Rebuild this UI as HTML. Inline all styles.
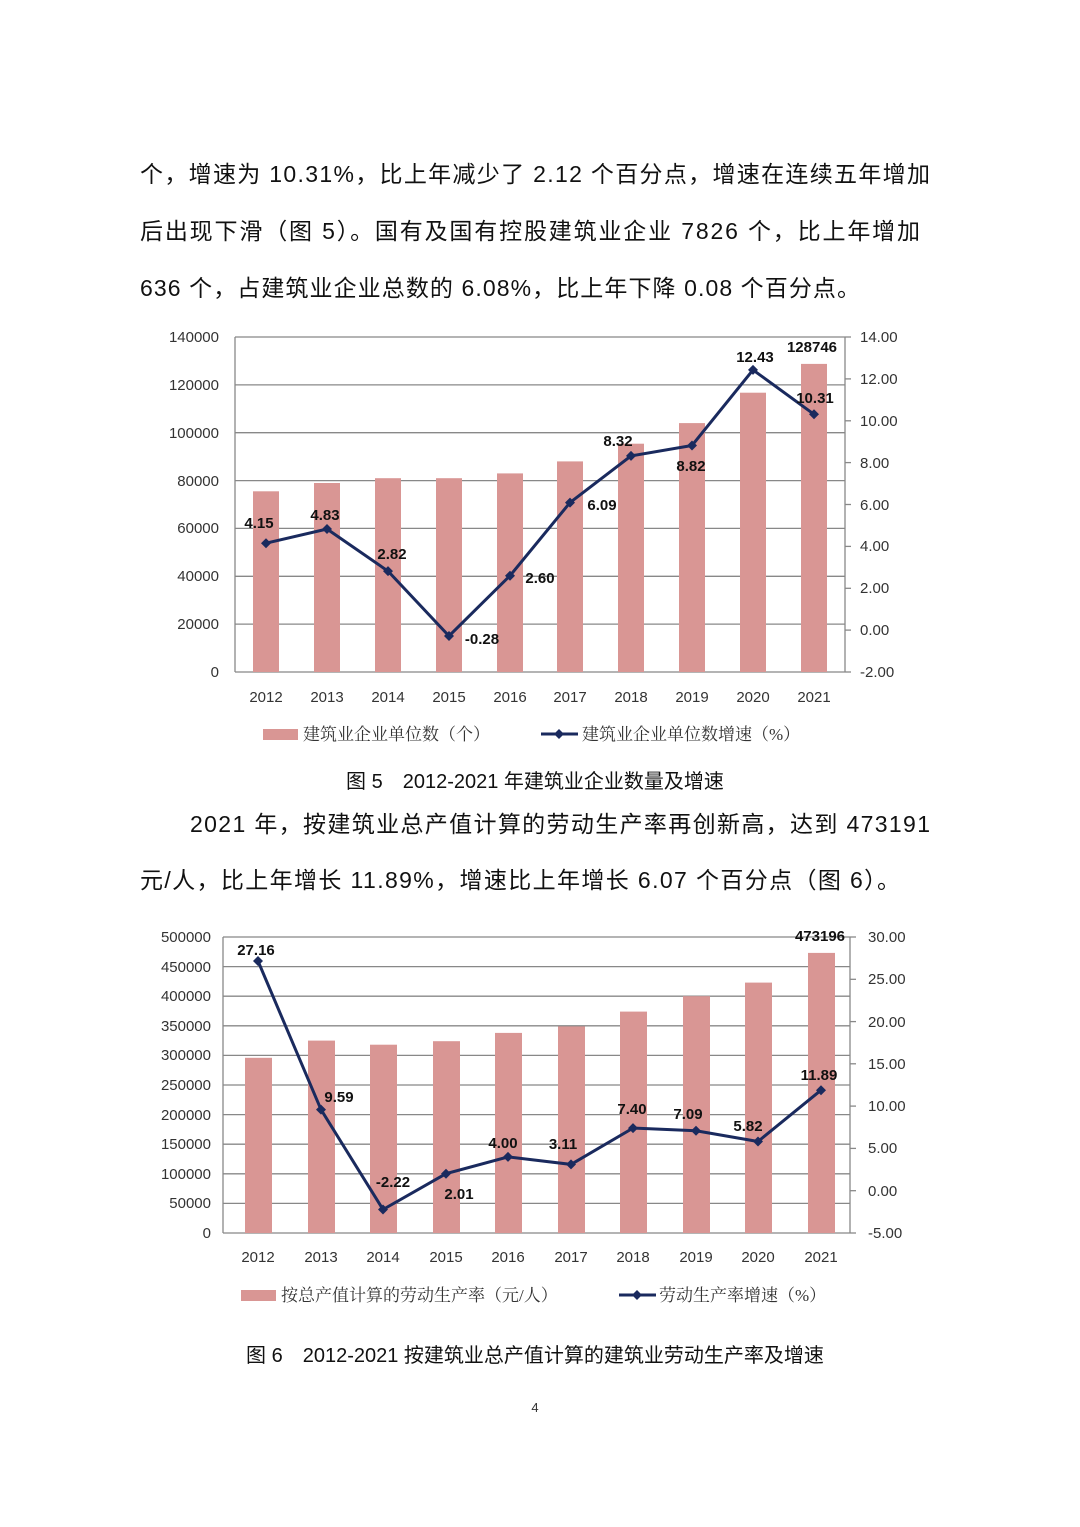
<!DOCTYPE html>
<html><head><meta charset="utf-8"><style>
html,body{margin:0;padding:0;background:#fff;}
svg{display:block;}
.p{font-family:"Liberation Sans","Noto Sans CJK SC",sans-serif;font-size:23px;fill:#111;}
.t{font-family:"Liberation Sans","Noto Sans CJK SC",sans-serif;font-size:15px;fill:#333;}
.d{font-family:"Liberation Sans",sans-serif;font-size:15px;font-weight:bold;fill:#111;}
.c{font-family:"Liberation Sans","Noto Sans CJK SC",sans-serif;font-size:20px;fill:#111;}
.l{font-family:"Liberation Serif","Noto Serif CJK SC",serif;font-size:17px;fill:#333;}
</style></head><body>
<svg width="1080" height="1527" viewBox="0 0 1080 1527" xmlns="http://www.w3.org/2000/svg">
<text class="p" x="140" y="182" textLength="790">个，增速为 10.31%，比上年减少了 2.12 个百分点，增速在连续五年增加</text>
<text class="p" x="140" y="239" textLength="780">后出现下滑（图 5）。国有及国有控股建筑业企业 7826 个，比上年增加</text>
<text class="p" x="140" y="296" textLength="720">636 个，占建筑业企业总数的 6.08%，比上年下降 0.08 个百分点。</text>

<!-- Chart 1 -->
<g stroke="#888" stroke-width="1.3">
<line x1="235" y1="672" x2="845" y2="672"/>
<line x1="235" y1="624.1" x2="845" y2="624.1"/>
<line x1="235" y1="576.3" x2="845" y2="576.3"/>
<line x1="235" y1="528.4" x2="845" y2="528.4"/>
<line x1="235" y1="480.6" x2="845" y2="480.6"/>
<line x1="235" y1="432.7" x2="845" y2="432.7"/>
<line x1="235" y1="384.9" x2="845" y2="384.9"/>
<line x1="235" y1="337" x2="845" y2="337"/>
<line x1="235" y1="337" x2="235" y2="672"/>
<line x1="845" y1="337" x2="845" y2="672"/>
</g>
<g fill="#d99694">
<rect x="253" y="491.3" width="26" height="180.7"/>
<rect x="314" y="483" width="26" height="189"/>
<rect x="375" y="478.2" width="26" height="193.8"/>
<rect x="436" y="478.2" width="26" height="193.8"/>
<rect x="497" y="473.4" width="26" height="198.6"/>
<rect x="557" y="461.4" width="26" height="210.6"/>
<rect x="618" y="443.7" width="26" height="228.3"/>
<rect x="679" y="423.1" width="26" height="248.9"/>
<rect x="740" y="392.7" width="26" height="279.3"/>
<rect x="801" y="363.9" width="26" height="308.1"/>
</g>
<polyline fill="none" stroke="#1a2a5e" stroke-width="3" points="266,543.2 327,529 388,571.1 449,636 510,575.7 570,502.6 631,455.9 692,445.5 753,369.9 814,414.3"/>
<g fill="#1a2a5e">
<path d="M266 538.2l5 5-5 5-5-5z"/><path d="M327 524l5 5-5 5-5-5z"/><path d="M388 566.1l5 5-5 5-5-5z"/><path d="M449 631l5 5-5 5-5-5z"/><path d="M510 570.7l5 5-5 5-5-5z"/><path d="M570 497.6l5 5-5 5-5-5z"/><path d="M631 450.9l5 5-5 5-5-5z"/><path d="M692 440.5l5 5-5 5-5-5z"/><path d="M753 364.9l5 5-5 5-5-5z"/><path d="M814 409.3l5 5-5 5-5-5z"/>
</g>
<g class="t" text-anchor="end">
<text x="219" y="677">0</text><text x="219" y="629">20000</text><text x="219" y="581">40000</text><text x="219" y="533">60000</text><text x="219" y="486">80000</text><text x="219" y="438">100000</text><text x="219" y="390">120000</text><text x="219" y="342">140000</text>
</g>
<g stroke="#888" stroke-width="1.3">
<line x1="845" y1="672" x2="851" y2="672"/><line x1="845" y1="630.1" x2="851" y2="630.1"/><line x1="845" y1="588.3" x2="851" y2="588.3"/><line x1="845" y1="546.4" x2="851" y2="546.4"/><line x1="845" y1="504.5" x2="851" y2="504.5"/><line x1="845" y1="462.6" x2="851" y2="462.6"/><line x1="845" y1="420.8" x2="851" y2="420.8"/><line x1="845" y1="378.9" x2="851" y2="378.9"/><line x1="845" y1="337" x2="851" y2="337"/>
</g>
<g class="t">
<text x="860" y="677">-2.00</text><text x="860" y="635">0.00</text><text x="860" y="593">2.00</text><text x="860" y="551">4.00</text><text x="860" y="510">6.00</text><text x="860" y="468">8.00</text><text x="860" y="426">10.00</text><text x="860" y="384">12.00</text><text x="860" y="342">14.00</text>
</g>
<g class="t" text-anchor="middle">
<text x="266" y="702">2012</text><text x="327" y="702">2013</text><text x="388" y="702">2014</text><text x="449" y="702">2015</text><text x="510" y="702">2016</text><text x="570" y="702">2017</text><text x="631" y="702">2018</text><text x="692" y="702">2019</text><text x="753" y="702">2020</text><text x="814" y="702">2021</text>
</g>
<g class="d" text-anchor="middle">
<text x="259" y="528">4.15</text><text x="325" y="520">4.83</text><text x="392" y="559">2.82</text><text x="482" y="644">-0.28</text><text x="540" y="583">2.60</text><text x="602" y="510">6.09</text><text x="618" y="446">8.32</text><text x="691" y="471">8.82</text><text x="755" y="362">12.43</text><text x="812" y="352">128746</text><text x="815" y="403">10.31</text>
</g>
<rect x="263" y="729" width="35" height="11" fill="#d99694"/>
<text class="l" x="303" y="740">建筑业企业单位数（个）</text>
<line x1="541" y1="734" x2="578" y2="734" stroke="#1a2a5e" stroke-width="3"/>
<path d="M559 729l5 5-5 5-5-5z" fill="#1a2a5e"/>
<text class="l" x="582" y="740">建筑业企业单位数增速（%）</text>
<text class="c" x="535" y="788" text-anchor="middle">图 5　2012-2021 年建筑业企业数量及增速</text>

<text class="p" x="190" y="832" textLength="740">2021 年，按建筑业总产值计算的劳动生产率再创新高，达到 473191</text>
<text class="p" x="140" y="888" textLength="760">元/人，比上年增长 11.89%，增速比上年增长 6.07 个百分点（图 6）。</text>

<!-- Chart 2 -->
<g stroke="#888" stroke-width="1.3">
<line x1="223" y1="1233" x2="850" y2="1233"/><line x1="223" y1="1203.4" x2="850" y2="1203.4"/><line x1="223" y1="1173.8" x2="850" y2="1173.8"/><line x1="223" y1="1144.2" x2="850" y2="1144.2"/><line x1="223" y1="1114.6" x2="850" y2="1114.6"/><line x1="223" y1="1085" x2="850" y2="1085"/><line x1="223" y1="1055.4" x2="850" y2="1055.4"/><line x1="223" y1="1025.8" x2="850" y2="1025.8"/><line x1="223" y1="996.2" x2="850" y2="996.2"/><line x1="223" y1="966.6" x2="850" y2="966.6"/><line x1="223" y1="937" x2="850" y2="937"/>
<line x1="223" y1="937" x2="223" y2="1233"/><line x1="850" y1="937" x2="850" y2="1233"/>
<line x1="850" y1="1233" x2="856" y2="1233"/><line x1="850" y1="1190.7" x2="856" y2="1190.7"/><line x1="850" y1="1148.4" x2="856" y2="1148.4"/><line x1="850" y1="1106.1" x2="856" y2="1106.1"/><line x1="850" y1="1063.8" x2="856" y2="1063.8"/><line x1="850" y1="1021.6" x2="856" y2="1021.6"/><line x1="850" y1="979.3" x2="856" y2="979.3"/><line x1="850" y1="937" x2="856" y2="937"/>
</g>
<g fill="#d99694">
<rect x="245" y="1057.8" width="27" height="175.2"/>
<rect x="308" y="1040.6" width="27" height="192.4"/>
<rect x="370" y="1044.7" width="27" height="188.3"/>
<rect x="433" y="1041.2" width="27" height="191.8"/>
<rect x="495" y="1032.9" width="27" height="200.1"/>
<rect x="558" y="1026.4" width="27" height="206.6"/>
<rect x="620" y="1011.6" width="27" height="221.4"/>
<rect x="683" y="996.2" width="27" height="236.8"/>
<rect x="745" y="982.6" width="27" height="250.4"/>
<rect x="808" y="952.9" width="27" height="280.1"/>
</g>
<polyline fill="none" stroke="#1a2a5e" stroke-width="3" points="258,961 321,1109.6 383,1209.5 446,1173.7 508,1156.9 571,1164.4 633,1128.1 696,1130.8 758,1141.5 821,1090.2"/>
<g fill="#1a2a5e">
<path d="M258 956l5 5-5 5-5-5z"/><path d="M321 1104.6l5 5-5 5-5-5z"/><path d="M383 1204.5l5 5-5 5-5-5z"/><path d="M446 1168.7l5 5-5 5-5-5z"/><path d="M508 1151.9l5 5-5 5-5-5z"/><path d="M571 1159.4l5 5-5 5-5-5z"/><path d="M633 1123.1l5 5-5 5-5-5z"/><path d="M696 1125.8l5 5-5 5-5-5z"/><path d="M758 1136.5l5 5-5 5-5-5z"/><path d="M821 1085.2l5 5-5 5-5-5z"/>
</g>
<g class="t" text-anchor="end">
<text x="211" y="1238">0</text><text x="211" y="1208">50000</text><text x="211" y="1179">100000</text><text x="211" y="1149">150000</text><text x="211" y="1120">200000</text><text x="211" y="1090">250000</text><text x="211" y="1060">300000</text><text x="211" y="1031">350000</text><text x="211" y="1001">400000</text><text x="211" y="972">450000</text><text x="211" y="942">500000</text>
</g>
<g class="t">
<text x="868" y="1238">-5.00</text><text x="868" y="1196">0.00</text><text x="868" y="1153">5.00</text><text x="868" y="1111">10.00</text><text x="868" y="1069">15.00</text><text x="868" y="1027">20.00</text><text x="868" y="984">25.00</text><text x="868" y="942">30.00</text>
</g>
<g class="t" text-anchor="middle">
<text x="258" y="1262">2012</text><text x="321" y="1262">2013</text><text x="383" y="1262">2014</text><text x="446" y="1262">2015</text><text x="508" y="1262">2016</text><text x="571" y="1262">2017</text><text x="633" y="1262">2018</text><text x="696" y="1262">2019</text><text x="758" y="1262">2020</text><text x="821" y="1262">2021</text>
</g>
<g class="d" text-anchor="middle">
<text x="256" y="955">27.16</text><text x="339" y="1102">9.59</text><text x="393" y="1187">-2.22</text><text x="459" y="1199">2.01</text><text x="503" y="1148">4.00</text><text x="563" y="1149">3.11</text><text x="632" y="1114">7.40</text><text x="688" y="1119">7.09</text><text x="748" y="1131">5.82</text><text x="819" y="1080">11.89</text><text x="820" y="941">473196</text>
</g>
<rect x="241" y="1290" width="35" height="11" fill="#d99694"/>
<text class="l" x="281" y="1301">按总产值计算的劳动生产率（元/人）</text>
<line x1="619" y1="1295" x2="656" y2="1295" stroke="#1a2a5e" stroke-width="3"/>
<path d="M637 1290l5 5-5 5-5-5z" fill="#1a2a5e"/>
<text class="l" x="659" y="1301">劳动生产率增速（%）</text>
<text class="c" x="535" y="1362" text-anchor="middle">图 6　2012-2021 按建筑业总产值计算的建筑业劳动生产率及增速</text>
<text class="t" x="535" y="1412" text-anchor="middle" style="font-size:13px">4</text>
</svg>
</body></html>
